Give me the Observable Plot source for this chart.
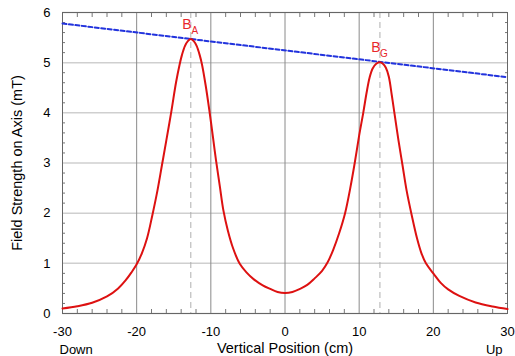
<!DOCTYPE html>
<html><head><meta charset="utf-8">
<script src="https://cdn.jsdelivr.net/npm/d3@7"></script>
<script src="https://cdn.jsdelivr.net/npm/@observablehq/plot@0.6"></script>
<style>body{margin:0;background:#fff}#c{position:absolute;left:0;top:0}</style>
</head><body><div id="c"></div>
<script>
// Red curve: field strength on axis (mT) vs vertical position (cm)
const posX   = [-30, -28, -26, -24, -22.5, -21.5, -20.7, -20, -19.3, -18.6, -17.9, -17.2, -16.6, -16, -15.3, -14.7, -14.2, -13.9, -13.5, -13.1, -12.7,
                -12.3, -11.9, -11.5, -11.2, -10.7, -10.2, -9.7, -9.3, -8.8, -8.3, -7.7, -7.0, -6.1, -5.2, -4.2, -3, -2, -1, 0,
                1, 2, 3, 4, 5, 5.75, 6.5, 7.3, 8.1, 8.8, 9.4, 10.0, 10.55, 11.0, 11.4, 11.8, 12.3, 12.8,
                13.2, 13.6, 14.0, 14.4, 14.75, 15.3, 15.85, 16.4, 17.1, 17.8, 18.4, 19.0, 20, 21, 22, 23.5, 25.7, 28, 30];
const fieldY = [0.10, 0.145, 0.215, 0.34, 0.50, 0.66, 0.82, 0.98, 1.2, 1.5, 1.95, 2.45, 2.95, 3.45, 4.05, 4.6, 4.97, 5.15, 5.33, 5.43, 5.47,
                5.43, 5.33, 5.15, 4.97, 4.55, 4.05, 3.5, 3.05, 2.55, 2.05, 1.65, 1.3, 0.99, 0.82, 0.68, 0.56, 0.49, 0.43, 0.41,
                0.43, 0.49, 0.57, 0.70, 0.85, 1.02, 1.27, 1.6, 2.0, 2.5, 3.0, 3.55, 4.0, 4.4, 4.7, 4.88, 4.98, 5.01,
                4.98, 4.9, 4.72, 4.35, 4.0, 3.45, 2.95, 2.45, 1.95, 1.5, 1.2, 1.0, 0.80, 0.61, 0.48, 0.35, 0.22, 0.14, 0.09];
// Blue dashed line through the two peaks
const trendX = [-30, 30];
const trendY = [5.78, 4.71];
// Peaks
const peakX = [-12.7, 12.8];
const peakY = [5.47, 5.01];
const peakLetter = ["B", "B"];
const peakSub = ["A", "G"];
// Ticks
const xTicks = [-30, -20, -10, 0, 10, 20, 30];
const yTicks = [0, 1, 2, 3, 4, 5, 6];
const xMinor = [-28, -26, -24, -22, -18, -16, -14, -12, -8, -6, -4, -2, 2, 4, 6, 8, 12, 14, 16, 18, 22, 24, 26, 28];
const yMinor = [];
for (let i = 0; i < 6; i++) for (let j = 1; j < 5; j++) yMinor.push(+(i + j * 0.2).toFixed(1));
const xTitle = "Vertical Position (cm)";
const yTitle = "Field Strength on Axis (mT)";
const endLabels = ["Down", "Up"];

const curve = posX.map((x, i) => ({x, y: fieldY[i]}));
const trend = trendX.map((x, i) => ({x, y: trendY[i]}));
const peaks = peakX.map((x, i) => ({x, y: peakY[i], letter: peakLetter[i], sub: peakSub[i]}));

const RED = "#dd1111", LRED = "#e8262a", BLUE = "#2233dd";
const fmt = d => String(d);

const chart = Plot.plot({
  width: 515, height: 356,
  marginLeft: 62, marginRight: 8, marginTop: 12, marginBottom: 43,
  x: {domain: [-30, 30]},
  y: {domain: [0, 6]},
  style: {fontFamily: "'Liberation Sans', Arial, Helvetica, sans-serif", fontSize: "13px", color: "#000", background: "#fff"},
  marks: [
    Plot.gridY(yTicks, {stroke: "#cfcfcf", strokeOpacity: 1, strokeWidth: 1.5}),
    Plot.gridX(xTicks, {stroke: "#8a8a8a", strokeOpacity: 1}),
    Plot.ruleX(peakX, {stroke: "#b0b0b0", strokeDasharray: "6,4"}),
    Plot.axisX(xMinor, {anchor: "bottom", tickSize: -4, tickFormat: () => "", label: null, stroke: "#777"}),
    Plot.axisX(xMinor, {anchor: "top", tickSize: -4, tickFormat: () => "", label: null, stroke: "#777"}),
    Plot.axisY(yMinor, {anchor: "left", tickSize: -3, tickFormat: () => "", label: null, stroke: "#777"}),
    Plot.axisY(yMinor, {anchor: "right", tickSize: -3, tickFormat: () => "", label: null, stroke: "#777"}),
    Plot.axisX(xTicks, {anchor: "bottom", tickSize: 0, tickPadding: 13, tickFormat: fmt, label: null, fontSize: 13}),
    Plot.axisY(yTicks, {anchor: "left", tickSize: 0, tickPadding: 12, tickFormat: fmt, label: null, fontSize: 13}),
    Plot.frame({stroke: "#666"}),
    Plot.line(trend, {x: "x", y: "y", stroke: BLUE, strokeWidth: 2, strokeDasharray: "4,2.5"}),
    Plot.line(curve, {x: "x", y: "y", stroke: RED, strokeWidth: 2, curve: "catmull-rom"}),
    Plot.text(peaks, {x: "x", y: "y", text: "letter", dx: -4, dy: -10.5, lineAnchor: "bottom", fill: LRED, fontSize: 14}),
    Plot.text(peaks, {x: "x", y: "y", text: "sub", dx: 4, dy: -5, lineAnchor: "bottom", fill: LRED, fontSize: 10}),
    Plot.text([xTitle], {text: d => d, frameAnchor: "bottom", textAnchor: "middle", lineAnchor: "middle", dy: 35, fontSize: 14.5}),
    Plot.text([yTitle], {text: d => d, frameAnchor: "left", textAnchor: "middle", lineAnchor: "middle", rotate: -90, dx: -45, fontSize: 14.5}),
    Plot.text([endLabels[0]], {text: d => d, frameAnchor: "bottom-left", textAnchor: "start", lineAnchor: "middle", dx: -3, dy: 36, fontSize: 13}),
    Plot.text([endLabels[1]], {text: d => d, frameAnchor: "bottom-right", textAnchor: "end", lineAnchor: "middle", dx: -5, dy: 36, fontSize: 13})
  ]
});
document.getElementById("c").appendChild(chart);
</script>
</body></html>
